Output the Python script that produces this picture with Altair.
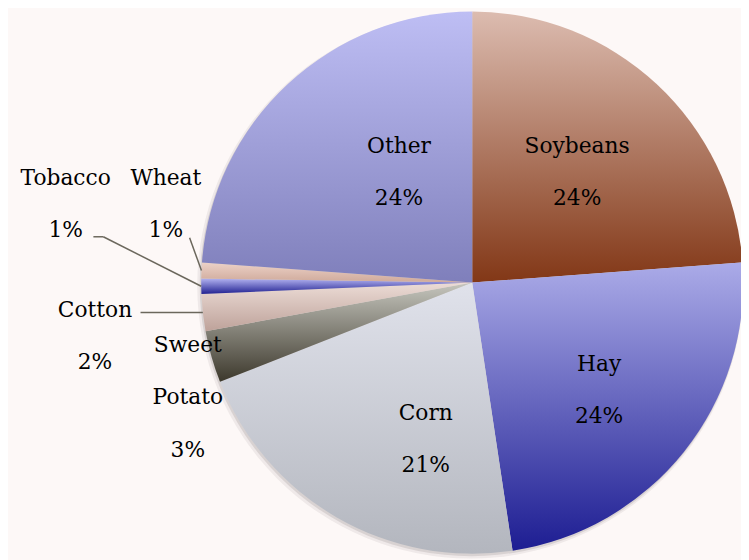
import altair as alt
import pandas as pd

# ---- data ----
categories = ["Soybeans", "Hay", "Corn", "Sweet Potato", "Cotton", "Tobacco", "Wheat", "Other"]
shares = [23.8, 23.8, 21.4, 3.1, 2.2, 0.9, 0.95, 23.8]

# ---- styling / layout ----
W, H = 741, 552
CX, CY, R = 469.3, 274.6, 274
FONT = "DejaVu Serif"
LINE_H = 53

slice_colors = {
    "Soybeans": ("#dcbcb0", "#823716"),
    "Hay": ("#ababe8", "#1d1d92"),
    "Corn": ("#e0e2eb", "#b3b6be"),
    "Sweet Potato": ("#c6c6be", "#3c382c"),
    "Cotton": ("#ecdcd6", "#bea29a"),
    "Tobacco": ("#b2b2f0", "#222292"),
    "Wheat": ("#ecd2c8", "#cfa99a"),
    "Other": ("#bebef4", "#7f7fbb"),
}

# label block centre: (radius along mid-angle, dx, dy)
label_layout = {
    "Soybeans": (150, 4, -2),
    "Hay": (150, 11, 15),
    "Corn": (150, 28, 28),
    "Other": (150, 28, -2),
    "Sweet Potato": (R, -24, 41),
    "Cotton": (R, -109, 24),
    "Tobacco": (R, -137, -83),
    "Wheat": (R, -36, -67),
}
# leader line points relative to slice edge at mid-angle
leader_layout = {
    "Cotton": [(0, 0), (-63, 0)],
    "Tobacco": [(0, 0), (-99, -50), (-109, -50)],
    "Wheat": [(0, 0), (-12, -33)],
}

df = pd.DataFrame({"crop": categories, "share": shares, "idx": list(range(len(categories)))})

base = (
    alt.Chart(df)
    .transform_joinaggregate(total="sum(share)")
    .transform_window(cum="sum(share)", sort=[alt.SortField("idx", order="ascending")], frame=[None, 0])
    .transform_calculate(start="(datum.cum - datum.share) / datum.total * 2 * PI")
    .transform_calculate(stop="datum.cum / datum.total * 2 * PI")
    .transform_calculate(mid="(datum.start + datum.stop) / 2")
    .transform_calculate(label="replace(datum.crop, ' ', '|') + '|' + format(datum.share / datum.total, '.0%')")
    .transform_calculate(nlines="length(split(datum.label, '|'))")
)

layers = []

# soft shadow
for off, rad, op in [((-2, 3), R + 2, 0.12), ((-1, 2), R + 0.5, 0.22)]:
    layers.append(
        base.transform_filter(alt.datum.idx == 0)
        .mark_arc(theta=0, theta2=6.2832, outerRadius=rad, fill="#8a8080", opacity=op)
        .encode(x=alt.value(CX + off[0]), y=alt.value(CY + off[1]))
    )

# slices with vertical gradients
for cat in categories:
    top, bottom = slice_colors[cat]
    grad = alt.LinearGradient(
        gradient="linear",
        stops=[alt.GradientStop(color=top, offset=0), alt.GradientStop(color=bottom, offset=1)],
        x1=0, x2=0, y1=0, y2=1,
    )
    layers.append(
        base.transform_filter(alt.datum.crop == cat)
        .mark_arc(outerRadius=R, fill=grad, strokeWidth=0)
        .encode(
            theta=alt.Theta("start:Q", scale=None),
            theta2="stop:Q",
            x=alt.value(CX),
            y=alt.value(CY),
        )
    )

# leader lines
for cat, pts in leader_layout.items():
    for (ax, ay), (bx, by) in zip(pts[:-1], pts[1:]):
        layers.append(
            base.transform_filter(alt.datum.crop == cat)
            .transform_calculate(
                x1=f"{CX} + {R} * sin(datum.mid) + ({ax})",
                y1=f"{CY} - {R} * cos(datum.mid) + ({ay})",
                x2=f"{CX} + {R} * sin(datum.mid) + ({bx})",
                y2=f"{CY} - {R} * cos(datum.mid) + ({by})",
            )
            .mark_rule(color="#6b675c", strokeWidth=1.5)
            .encode(
                x=alt.X("x1:Q", scale=None, axis=None),
                y=alt.Y("y1:Q", scale=None, axis=None),
                x2="x2:Q",
                y2="y2:Q",
            )
        )

# labels (anchor = first line; block centred on the layout point)
for cat in categories:
    r, dx, dy = label_layout[cat]
    layers.append(
        base.transform_filter(alt.datum.crop == cat)
        .transform_calculate(
            lx=f"{CX} + {r} * sin(datum.mid) + ({dx})",
            ly=f"{CY} - {r} * cos(datum.mid) + ({dy}) - (datum.nlines - 1) * {LINE_H} / 2",
        )
        .mark_text(font=FONT, fontSize=22, lineBreak="|", lineHeight=LINE_H,
                   align="center", baseline="middle", color="#000000")
        .encode(
            x=alt.X("lx:Q", scale=None, axis=None),
            y=alt.Y("ly:Q", scale=None, axis=None),
            text="label:N",
        )
    )

chart = (
    alt.layer(*layers)
    .properties(width=W, height=H, padding=0, background="#fdf8f7",
                autosize=alt.AutoSizeParams(type="none"))
    .configure_view(strokeWidth=0)
)

chart.save("out.html", embed_options={"renderer": "svg", "actions": False})
